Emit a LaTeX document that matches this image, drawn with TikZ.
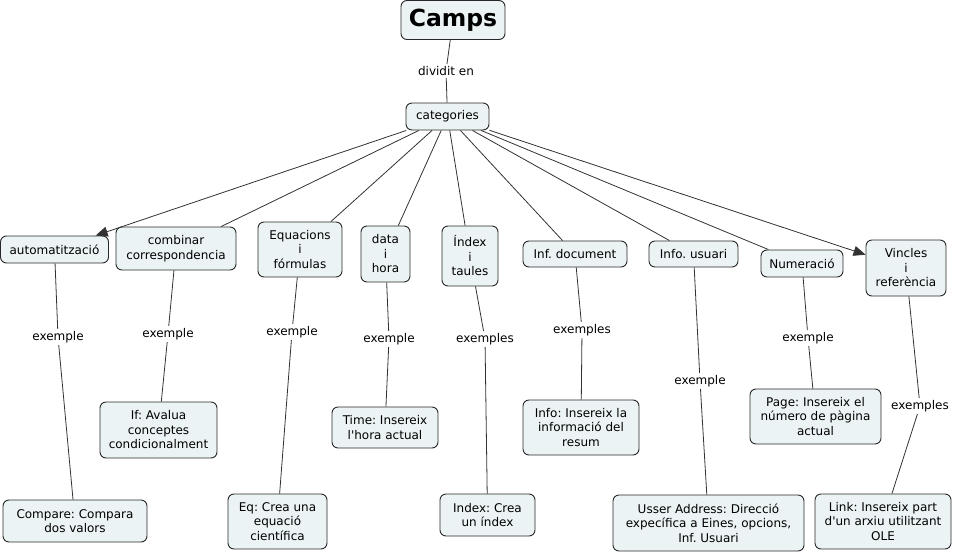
\documentclass[tikz,border=0pt]{standalone}
\usepackage{fontspec}
\setmainfont{DejaVu Sans}
\usetikzlibrary{arrows.meta}
\frenchspacing
\definecolor{boxfill}{RGB}{236,243,245}
\definecolor{boxline}{RGB}{40,40,40}
\definecolor{conn}{RGB}{50,50,50}
\newcommand{\apos}{\textquotesingle}
\tikzset{
  concept/.style={draw=boxline, line width=0.9pt, fill=boxfill, rounded corners=6pt,
    align=center, inner sep=2pt, font=\fontsize{12}{14.5}\selectfont},
  lbl/.style={inner sep=2pt, font=\fontsize{12}{14.5}\selectfont},
  link/.style={draw=conn, line width=0.8pt},
  arr/.style={link, -{Triangle[length=12pt,width=10pt]}}
}
\begin{document}
\begin{tikzpicture}[x=1pt,y=-1pt]
\useasboundingbox (0,0) rectangle (953,554);
% top
\node[concept, minimum width=104pt, minimum height=39pt, font=\fontsize{23.5}{26}\bfseries] (camps) at (453,20) {Camps};
\node[concept, minimum width=83pt, minimum height=27pt] (cat) at (447.5,116.5) {categories};
\node[lbl] (div) at (446,71) {dividit en};
% categories
\node[concept, minimum width=108pt, minimum height=27pt] (auto) at (54.5,249.5) {automatització};
\node[concept, minimum width=120pt, minimum height=43pt] (comb) at (176,248.5) {combinar\\correspondencia};
\node[concept, minimum width=84pt, minimum height=55pt] (equa) at (300,249.5) {Equacions\\i\\fórmulas};
\node[concept, minimum width=49pt, minimum height=56pt] (data) at (385.5,254) {data\\i\\hora};
\node[concept, minimum width=56pt, minimum height=60pt] (index) at (470,256) {Índex\\i\\taules};
\node[concept, minimum width=104pt, minimum height=26pt] (infdoc) at (575,254) {Inf. document};
\node[concept, minimum width=89pt, minimum height=26pt] (infus) at (693.5,254) {Info. usuari};
\node[concept, minimum width=82pt, minimum height=27pt] (num) at (802,263.5) {Numeració};
\node[concept, minimum width=80pt, minimum height=56pt] (vinc) at (906,268) {Vincles\\i\\referència};
% examples
\node[concept, minimum width=117pt, minimum height=56pt] (if) at (158.5,430) {If: Avalua\\conceptes\\condicionalment};
\node[concept, minimum width=144pt, minimum height=42pt] (comp) at (75,521) {Compare: Compara\\dos valors};
\node[concept, minimum width=99pt, minimum height=55pt] (eq) at (277.5,521.5) {Eq: Crea una\\equació\\científica};
\node[concept, minimum width=106pt, minimum height=41pt] (time) at (385,427.5) {Time: Insereix\\l\apos hora actual};
\node[concept, minimum width=116pt, minimum height=55pt] (info) at (581,427.5) {Info: Insereix la\\informació del\\resum};
\node[concept, minimum width=95pt, minimum height=42pt] (idx) at (487.5,515) {Index: Crea\\un índex};
\node[concept, minimum width=131pt, minimum height=55pt] (page) at (815.5,416.5) {Page: Insereix el\\número de pàgina\\actual};
\node[concept, minimum width=191pt, minimum height=56pt] (user) at (708.5,523) {Usser Address: Direcció\\expecífica a Eines, opcions,\\Inf. Usuari};
\node[concept, minimum width=136pt, minimum height=55pt] (lnk) at (883,521.5) {Link: Insereix part\\d\apos un arxiu utilitzant\\OLE};
% linking phrases
\node[lbl] (l1) at (58,337) {exemple};
\node[lbl] (l2) at (168,334) {exemple};
\node[lbl] (l3) at (292,332) {exemple};
\node[lbl] (l4) at (389,339) {exemple};
\node[lbl] (l5) at (485,339) {exemples};
\node[lbl] (l6) at (582,330) {exemples};
\node[lbl] (l7) at (700,381) {exemple};
\node[lbl] (l8) at (808,338) {exemple};
\node[lbl] (l9) at (920,406) {exemples};
% connectors
\draw[link] (camps) -- (div);
\draw[link] (div) -- (cat);
\draw[arr] (cat) -- (auto);
\draw[link] (cat) -- (comb);
\draw[link] (cat) -- (equa);
\draw[link] (cat) -- (data);
\draw[link] (cat) -- (index);
\draw[link] (cat) -- (infdoc);
\draw[link] (cat) -- (infus);
\draw[link] (cat) -- (num);
\draw[arr] (cat) -- (vinc);
\draw[link] (auto) -- (l1); \draw[link] (l1) -- (comp);
\draw[link] (comb) -- (l2); \draw[link] (l2) -- (if);
\draw[link] (equa) -- (l3); \draw[link] (l3) -- (eq);
\draw[link] (data) -- (l4); \draw[link] (l4) -- (time);
\draw[link] (index) -- (l5); \draw[link] (l5) -- (idx);
\draw[link] (infdoc) -- (l6); \draw[link] (l6) -- (info);
\draw[link] (infus) -- (l7); \draw[link] (l7) -- (user);
\draw[link] (num) -- (l8); \draw[link] (l8) -- (page);
\draw[link] (vinc) -- (l9); \draw[link] (l9) -- (lnk);
\end{tikzpicture}
\end{document}
